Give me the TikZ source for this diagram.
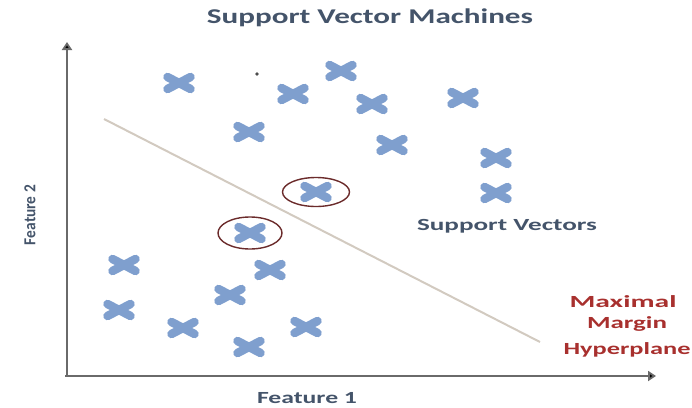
\documentclass[tikz,border=0pt]{standalone}
\usepackage{fontspec}
\setmainfont{Carlito}
\usetikzlibrary{arrows.meta,shapes.geometric}
\definecolor{titleblue}{HTML}{44546A}
\definecolor{crossblue}{HTML}{7F9FCE}
\definecolor{hyperred}{HTML}{A8302E}
\definecolor{ringred}{HTML}{6B2B2B}
\definecolor{planegray}{HTML}{D2CAC0}
\definecolor{axisgray}{HTML}{6A6A6A}
\tikzset{
  xmark/.pic={\draw[crossblue,line width=8.5pt,line cap=round] (-11.5,-6) -- (11.5,6) (-11.5,6) -- (11.5,-6);},
  axisline/.style={axisgray,line width=1.8pt,-{Triangle[length=8pt,width=10pt,fill=black]}},
  ring/.style={draw=ringred,line width=1.4pt,ellipse},
  lbl/.style={inner sep=0pt,font=\bfseries},
}
\newcommand{\hstretch}[2]{\resizebox{#1}{\height}{#2}}
\begin{document}
\begin{tikzpicture}[x=1pt,y=-1pt]
\useasboundingbox (0,0) rectangle (692,407);
% title
\node[lbl,text=titleblue] (title) at (370,18) {\hstretch{326pt}{\fontsize{21}{24}\selectfont Support Vector Machines}};
% axes
\coordinate (origin) at (67,376);
\coordinate (ytip) at (67,42);
\coordinate (xtip) at (656,376);
\draw[axisline] (origin) -- (ytip);
\draw[axisline] ([xshift=-2pt]origin) -- (xtip);
% axis labels
\node[lbl,text=titleblue,rotate=90] (f2) at (30,215) {\resizebox{60pt}{11pt}{\fontsize{14}{16}\selectfont Feature 2}};
\node[lbl,text=titleblue] (f1) at (307,398) {\hstretch{100pt}{\fontsize{17}{20}\selectfont Feature 1}};
% hyperplane
\coordinate (hpa) at (104,119);
\coordinate (hpb) at (540,342);
\draw[planegray,line width=2pt] (hpa) -- (hpb);
% crosses
\foreach \n/\x/\y in {c1/179/83,c2/341/71,c3/293/94,c4/372/104,c5/463/98,c6/249/132,c7/392/145,c8/496/158,c9/496/193,c10/316/192,c11/250/233,c12/124/265,c13/270/270,c14/230/295,c15/119/310,c16/183/328,c17/306/327,c18/249/347}
  \pic (\n) at (\x,\y) {xmark};
% small dot
\fill[black!70] (257,74) circle (1.8pt);
% support vector rings
\node[ring,minimum width=67pt,minimum height=29pt] (sv1) at (316,192) {};
\node[ring,minimum width=64pt,minimum height=32pt] (sv2) at (250,233) {};
% labels
\node[lbl,text=titleblue] (svl) at (507,226) {\hstretch{180pt}{\fontsize{17}{20}\selectfont Support Vectors}};
\node[lbl,text=hyperred,anchor=base] (mm1) at (623,307) {\hstretch{107pt}{\fontsize{17}{20}\selectfont Maximal}};
\node[lbl,text=hyperred,anchor=base] (mm2) at (627,328) {\hstretch{80pt}{\fontsize{17}{20}\selectfont Margin}};
\node[lbl,text=hyperred,anchor=base] (mm3) at (627,354) {\hstretch{127pt}{\fontsize{17}{20}\selectfont Hyperplane}};
\end{tikzpicture}
\end{document}
